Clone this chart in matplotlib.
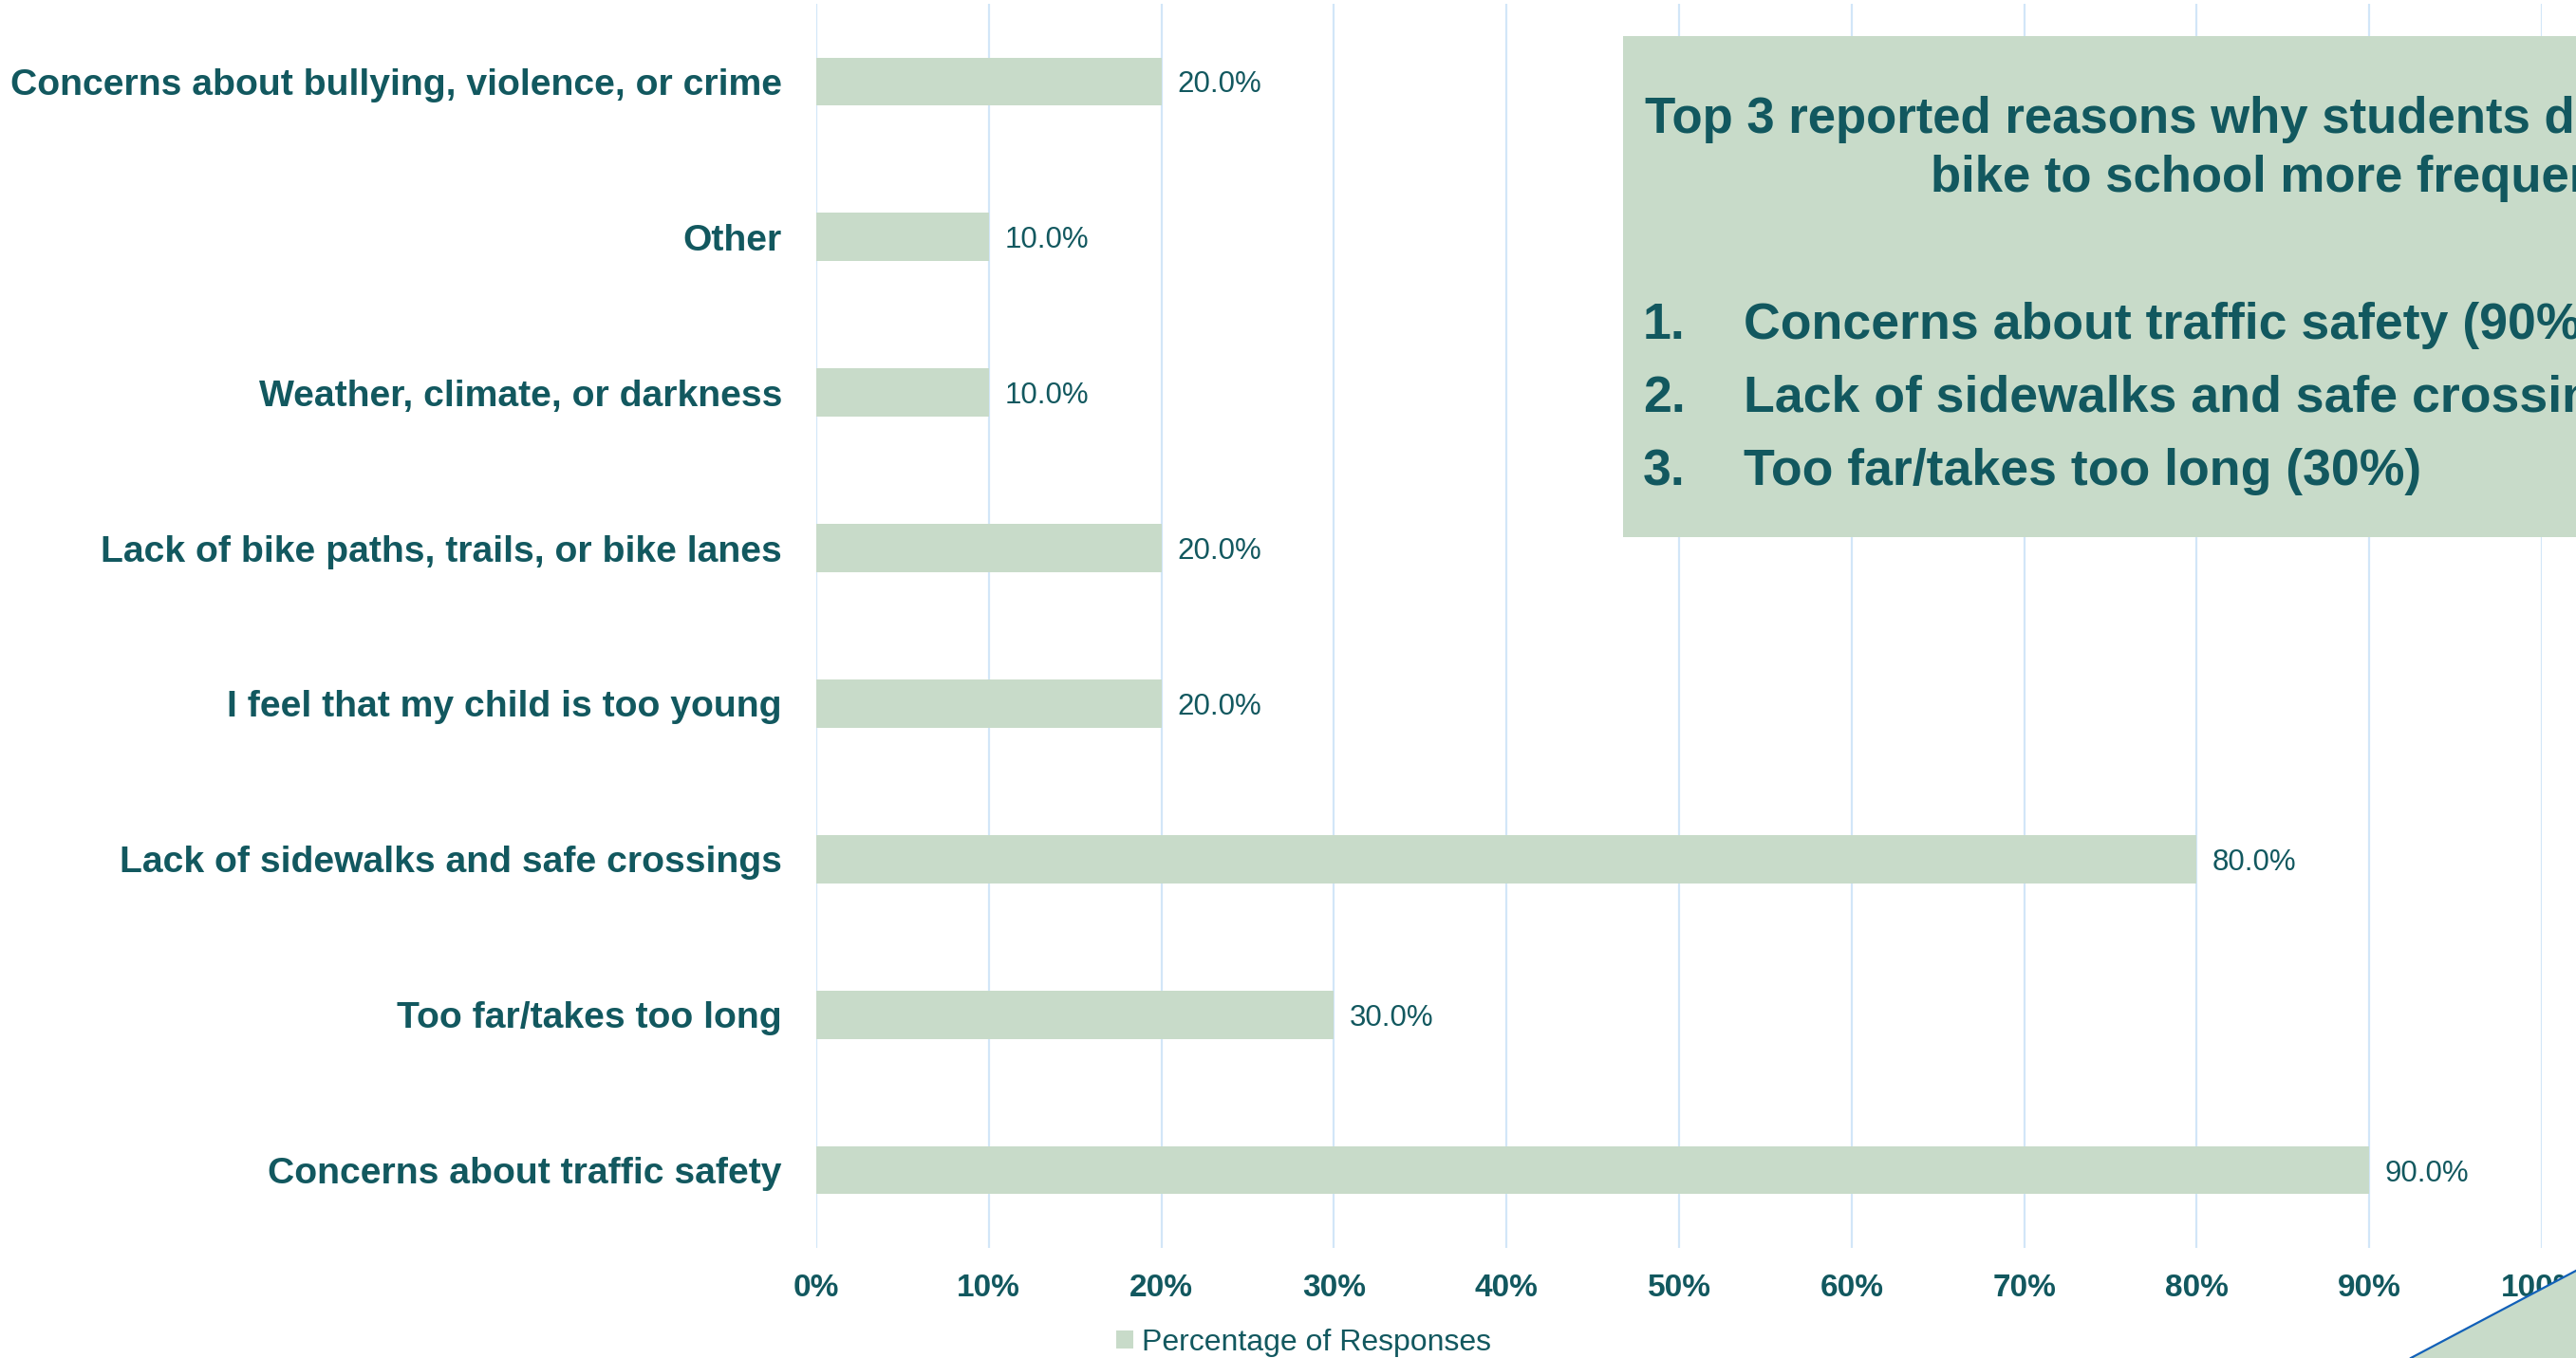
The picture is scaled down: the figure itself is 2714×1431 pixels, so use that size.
import numpy as np
import matplotlib
matplotlib.use("Agg")
import matplotlib.pyplot as plt
from matplotlib.patches import Rectangle, Polygon, Patch
from matplotlib.lines import Line2D

# ---- data ----
categories = [
    "Concerns about bullying, violence, or crime",
    "Other",
    "Weather, climate, or darkness",
    "Lack of bike paths, trails, or bike lanes",
    "I feel that my child is too young",
    "Lack of sidewalks and safe crossings",
    "Too far/takes too long",
    "Concerns about traffic safety",
]
values = [20.0, 10.0, 10.0, 20.0, 20.0, 80.0, 30.0, 90.0]
xticks = [0, 10, 20, 30, 40, 50, 60, 70, 80, 90, 100]
xtick_labels = [f"{t}%" for t in xticks]
series_name = "Percentage of Responses"
box_title = ["Top 3 reported reasons why students don't walk or",
             "bike to school more frequently"]
box_items = ["Concerns about traffic safety (90%)",
             "Lack of sidewalks and safe crossings (80%)",
             "Too far/takes too long (30%)"]

# ---- style ----
TEXT = "#12585F"
BAR = "#C8DBC9"
GRID = "#D2E6F8"
plt.rcParams["font.family"] = ["Liberation Sans", "DejaVu Sans"]

W, H = 2714, 1431
fig = plt.figure(figsize=(W / 100, H / 100), dpi=100)

def fx(px):
    return px / W

def fy(py):
    return 1 - py / H

ax = fig.add_axes([fx(860), fy(1315), (2678 - 860) / W, (1315 - 4) / H])
ypos = np.arange(len(categories))
ax.barh(ypos, np.array(values) / 100, height=0.31, color=BAR, zorder=2)
ax.set_xlim(0, 1)
ax.set_ylim(len(categories) - 0.5, -0.5)
ax.set_xticks(np.array(xticks) / 100)
ax.set_xticklabels(xtick_labels, fontsize=24, fontweight="bold", color=TEXT)
ax.set_yticks(ypos)
ax.set_yticklabels(categories, fontsize=28.2, fontweight="bold", color=TEXT)
ax.tick_params(axis="x", length=0, pad=19.5)
ax.tick_params(axis="y", length=0, pad=26)
ax.grid(axis="x", color=GRID, linewidth=1.6, zorder=0)
ax.set_axisbelow(True)
for s in ax.spines.values():
    s.set_visible(False)

for i, v in enumerate(values):
    ax.annotate(f"{v:.1f}%", xy=(v / 100, i), xytext=(12, -2.5),
                textcoords="offset points", va="center", ha="left",
                fontsize=22.5, color=TEXT)

# legend
fig.legend(handles=[Patch(facecolor=BAR, edgecolor="none", label=series_name)],
           loc="center left", bbox_to_anchor=(fx(1176), fy(1415)),
           frameon=False, fontsize=23, handlelength=0.55, handleheight=0.55,
           handletextpad=0.3, borderpad=0, borderaxespad=0, labelcolor=TEXT)

# summary box
fig.add_artist(Rectangle((fx(1710), fy(566)), (W + 20 - 1710) / W, (566 - 38) / H,
                         transform=fig.transFigure, facecolor=BAR,
                         edgecolor="none", zorder=5))
fig.text(fx(1733), fy(126), box_title[0], fontsize=38, fontweight="bold",
         color=TEXT, ha="left", va="center", zorder=6)
fig.text(fx(2034), fy(188), box_title[1], fontsize=38, fontweight="bold",
         color=TEXT, ha="left", va="center", zorder=6)
for k, (item, yy) in enumerate(zip(box_items, [343, 420, 497])):
    fig.text(fx(1731), fy(yy), f"{k + 1}.", fontsize=38.6, fontweight="bold",
             color=TEXT, ha="left", va="center", zorder=6)
    fig.text(fx(1837), fy(yy), item, fontsize=38.6, fontweight="bold",
             color=TEXT, ha="left", va="center", zorder=6)

# decorative corner triangle
fig.add_artist(Polygon([(fx(2540), fy(1431)), (fx(2714), fy(1339)),
                        (fx(2714), fy(1431))], closed=True,
                       transform=fig.transFigure, facecolor=BAR,
                       edgecolor="none", zorder=4))
fig.add_artist(Line2D([fx(2540), fx(2714)], [fy(1431), fy(1339)],
                      transform=fig.transFigure, color="#1160B8",
                      linewidth=1.6, zorder=5))

fig.savefig("out.png", dpi=100)
